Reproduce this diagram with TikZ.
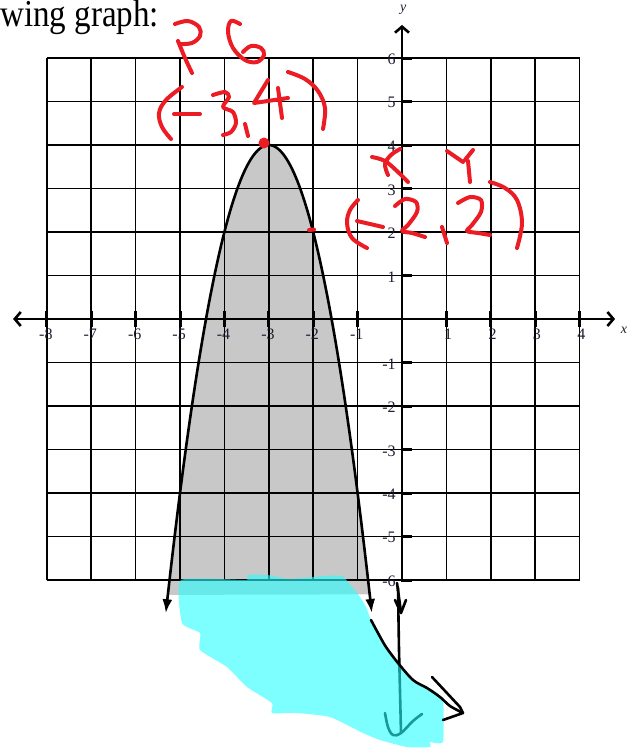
\documentclass[tikz,border=0pt]{standalone}
\usepackage{fontspec}
\setmainfont{Liberation Serif}
\usetikzlibrary{arrows.meta}
\definecolor{redink}{RGB}{236,28,36}
\definecolor{hlcyan}{RGB}{40,255,255}
\definecolor{shadegray}{RGB}{200,200,200}
\definecolor{labc}{RGB}{30,30,50}
\begin{document}
\begin{tikzpicture}[x=1pt,y=-1pt,
  gridline/.style={line width=1.6pt,black},
  axisline/.style={line width=2.6pt,black},
  tickmark/.style={line width=3pt,black},
  curveline/.style={line width=2.6pt,black},
  redpen/.style={draw=redink,line width=4pt,line cap=round,line join=round},
  handpen/.style={draw=black,line width=2.6pt,line cap=round,line join=round},
  highlight/.style={fill=hlcyan,fill opacity=0.6},
  ticklab/.style={text=labc,font=\fontsize{16}{16}\selectfont,inner sep=0pt},
  axislab/.style={text=labc,font=\fontsize{14}{14}\selectfont\itshape,inner sep=0pt}]
\useasboundingbox (0,0) rectangle (641,750);
\node[anchor=base west,inner sep=0pt] (title) at (0,26)
  {\scalebox{0.87}[1]{\fontsize{38}{40}\selectfont wing graph:}};

\begin{scope}[shift={(402,319)},x=44.4pt,y=43.5pt]
  % shaded region
  \fill[shadegray] plot[domain=-5.274:-0.726,samples=90] (\x,{-2*(\x+3)*(\x+3)+4}) -- cycle;
  % grid
  \foreach \i in {-8,...,4} \draw[gridline] (\i,-6) -- (\i,6);
  \foreach \j in {-6,...,6} \draw[gridline] (-8,\j) -- (4,\j);
  % axes
  \draw[axisline,{Straight Barb[length=6pt,width=14pt]}-{Straight Barb[length=6pt,width=14pt]}] (-8.76,0) -- (4.8,0);
  \draw[axisline,-{Straight Barb[length=6pt,width=14pt]}] (0,-6.05) -- (0,6.76);
  \foreach \i in {-8,...,-1,1,2,3,4} {
    \draw[tickmark] (\i,-0.18) -- (\i,0.18);
  }
  \foreach \j in {-6,...,-1,1,2,3,4,5,6} {
    \draw[tickmark] (0,\j) -- (0.22,\j);
  }
  % tick labels
  \foreach \i in {-8,...,-1} \node[ticklab] (xl\i) at (\i+0.04,-0.35) {\llap{-}\the\numexpr-\i\relax};
  \foreach \i in {1,2,3,4} \node[ticklab] (xl\i) at (\i+0.04,-0.35) {\i};
  \foreach \j in {-6,...,-1} \node[ticklab,anchor=east] (yl\j) at (-0.14,\j-0.03) {-\the\numexpr-\j\relax};
  \foreach \j in {1,...,6} \node[ticklab,anchor=east] (yl\j) at (-0.14,\j-0.03) {\j};
  \node[axislab] (xname) at (5.0,-0.25) {x};
  \node[axislab] (yname) at (0.03,7.1) {y};
  % parabola
  \draw[curveline,{Latex[length=14pt,width=10pt]}-{Latex[length=14pt,width=10pt]}]
    plot[domain=-5.32:-0.68,samples=120] (\x,{-2*(\x+3)*(\x+3)+4});
\end{scope}

% hand strokes under highlight
\draw[handpen] (397,583) -- (401,612);
\draw[handpen] (395,600) -- (401,613) -- (406,600);
\draw[handpen] (398,588) -- (399,650) -- (401,733);
\draw[handpen] plot[smooth,tension=0.6] coordinates {(385,713) (388,727) (393,735) (401,733) (413,721) (422,714)};

% cyan highlight
\fill[highlight] plot[smooth cycle,tension=0.3] coordinates {
  (181,580) (246,580) (247,575) (267,575) (290,579) (323,576) (342,576) (353,588)
  (360,597) (366,607) (371,620) (378,633) (386,647) (398,663) (413,680) (427,688)
  (433,690) (443,700) (443,742) (430,742) (430,747) (407,747)
  (380,740) (363,733) (330,717) (297,713) (272,713)
  (272,703) (247,687) (227,667) (200,650)
  (200,633) (182,623)};

% hand strokes over highlight
\draw[handpen] plot[smooth,tension=0.5] coordinates {(371,620) (378,633) (386,647) (398,663) (413,680) (427,688) (440,697) (450,706) (463,713)} -- (443,720);
\draw[handpen] (432,677) -- (460,707) -- (463,713);

% red annotations
\node[circle,fill=redink,inner sep=0pt,minimum size=11pt] (vertexdot) at (264,143) {};
\draw[redpen] (309,230) -- (314,229.5);
% h k
\draw[redpen] plot[smooth,tension=0.6] coordinates {(175,24) (188,21) (199,27) (200,36) (192,43) (180,44)};
\draw[redpen] plot[smooth,tension=0.6] coordinates {(178,41) (185,58) (192,73)};
\draw[redpen] plot[smooth,tension=0.6] coordinates {(240,24) (231,21) (228,32) (233,48) (245,60) (257,62) (264,55) (261,48) (251,46) (243,52)};
% (-3,4)
\draw[redpen] plot[smooth,tension=0.6] coordinates {(182,87) (166,100) (159,113) (162,127) (171,139)};
\draw[redpen] (174,114) -- (200,114);
\draw[redpen] plot[smooth,tension=0.5] coordinates {(213,95) (225,92) (229,97) (223,107) (233,112) (236,123) (231,132) (223,135)};
\draw[redpen] (245,124) -- (248,136);
\draw[redpen] (268,80) -- (254,103) -- (288,98);
\draw[redpen] (278,88) -- (282,118);
\draw[redpen] plot[smooth,tension=0.6] coordinates {(288,72) (305,79) (318,91) (325,108) (323,129)};
% x y
\draw[redpen] plot[smooth,tension=0.6] coordinates {(400,149) (391,155) (385,164) (388,175)};
\draw[redpen] plot[smooth,tension=0.6] coordinates {(372,157) (385,161) (398,172) (408,182)};
\draw[redpen] (447,151) -- (463,162);
\draw[redpen] (473,150) -- (465,160);
\draw[redpen] (468,161) -- (470,182);
% (-2,2)
\draw[redpen] plot[smooth,tension=0.6] coordinates {(358,200) (350,210) (347,223) (352,238) (367,248)};
\draw[redpen] (357,221) -- (383,227);
\draw[redpen] plot[smooth,tension=0.5] coordinates {(395,206) (405,199) (416,202) (417,212) (408,225) (402,231) (412,233) (425,237)};
\draw[redpen] (442,227) -- (447,243);
\draw[redpen] plot[smooth,tension=0.5] coordinates {(458,203) (470,197) (481,200) (481,212) (472,225) (467,231) (478,233) (490,235)};
\draw[redpen] plot[smooth,tension=0.6] coordinates {(490,182) (505,188) (517,200) (522,223) (517,248)};
\end{tikzpicture}
\end{document}
